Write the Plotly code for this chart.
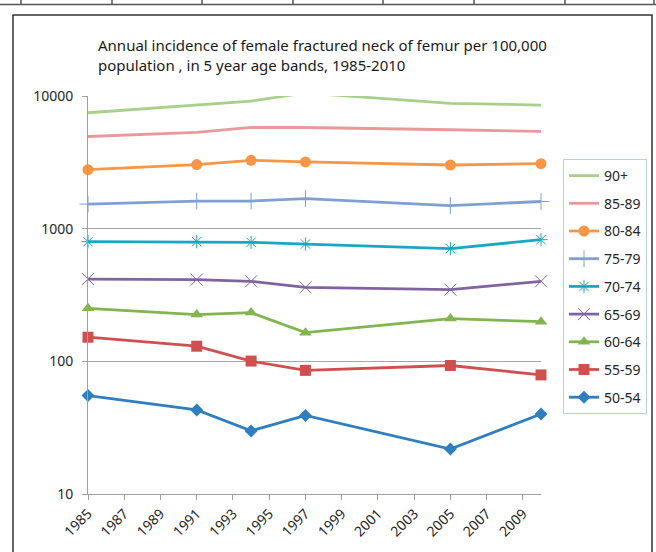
import plotly.graph_objects as go

years = [1985, 1991, 1994, 1997, 2005, 2010]

series_names = ["90+", "85-89", "80-84", "75-79", "70-74", "65-69", "60-64", "55-59", "50-54"]

v_90 = [7480, 8610, 9160, 10540, 8800, 8550]
v_85_89 = [4950, 5310, 5790, 5790, 5565, 5405]
v_80_84 = [2785, 3040, 3275, 3185, 3020, 3090]
v_75_79 = [1531, 1614, 1614, 1687, 1494, 1602]
v_70_74 = [798, 798, 789, 766, 707, 826]
v_65_69 = [417, 413, 401, 361, 347, 401]
v_60_64 = [251, 225, 233, 164.5, 210, 199]
v_55_59 = [152, 130, 100.5, 85.5, 93, 79]
v_50_54 = [55.2, 43, 29.9, 39.1, 21.8, 40.1]

values = [v_90, v_85_89, v_80_84, v_75_79, v_70_74, v_65_69, v_60_64, v_55_59, v_50_54]

colors = ["#A8D08D", "#E89A9B", "#F79646", "#7EA0D3", "#1AA7C1",
          "#8064A2", "#80B54F", "#CF504E", "#2F7EBF"]
markers = [None, None, "circle", "cross-thin-open", "asterisk-open",
           "x-thin-open", "triangle-up", "square", "diamond"]
msizes = [0, 0, 11, 12, 11, 12, 11, 11, 10]

x_ticks = list(range(1985, 2010, 2))
y_ticks = [10, 100, 1000, 10000]

fig = go.Figure()
for name, vals, col, sym, ms in zip(series_names, values, colors, markers, msizes):
    if sym is None:
        fig.add_trace(go.Scatter(x=years, y=vals, name=name, mode="lines",
                                 line=dict(color=col, width=2.8),
                                 legendgroup=name, cliponaxis=False))
    else:
        mk = dict(symbol=sym, size=ms, color=col)
        if "open" in sym:
            mk["line"] = dict(color=col, width=1)
        fig.add_trace(go.Scatter(x=years, y=vals, name=name, mode="lines+markers",
                                 line=dict(color=col, width=2.8), marker=mk,
                                 legendgroup=name, cliponaxis=False))

font_family = "Noto Sans, Open Sans, sans-serif"

# outer chart border and fragment of table above
shapes = [
    dict(type="rect", xref="paper", yref="paper",
         x0=(13 - 88) / 453, x1=(652 - 88) / 453,
         y0=(494 - 570) / 398, y1=(494 - 15) / 398,
         line=dict(color="#333333", width=1.5), fillcolor="rgba(0,0,0,0)", layer="below"),
    dict(type="line", xref="paper", yref="paper",
         x0=(0 - 88) / 453, x1=(656 - 88) / 453,
         y0=(494 - 4.5) / 398, y1=(494 - 4.5) / 398,
         line=dict(color="#555555", width=1.5)),
]
for px in [21, 112, 202, 293, 383, 474, 565, 654]:
    shapes.append(dict(type="line", xref="paper", yref="paper",
                       x0=(px - 88) / 453, x1=(px - 88) / 453,
                       y0=(494 - 4.5) / 398, y1=(494 + 10) / 398,
                       line=dict(color="#555555", width=1.5)))

fig.update_layout(
    width=656, height=552,
    margin=dict(l=88, r=115, t=96, b=58, autoexpand=False),
    paper_bgcolor="white", plot_bgcolor="white",
    font=dict(family=font_family, size=14, color="#262626"),
    title=dict(text="Annual incidence of female fractured neck of femur per 100,000<br>population , in 5 year age bands, 1985-2010",
               x=98 / 656, xanchor="left", xref="container",
               y=1 - 51 / 552, yanchor="middle", yref="container",
               font=dict(family=font_family, size=15, color="#1a1a1a")),
    showlegend=True,
    legend=dict(x=(563 - 88) / 453, xanchor="left", y=(494 - 159) / 398, yanchor="top",
                bgcolor="white", bordercolor="#B9CDE5", borderwidth=1,
                tracegroupgap=6.5, font=dict(family=font_family, size=14, color="#262626"),
                itemwidth=30),
    shapes=shapes,
)

fig.update_xaxes(range=[1985, 2010], tickmode="array", tickvals=x_ticks,
                 ticktext=[str(t) for t in x_ticks], tickangle=-45,
                 ticks="outside", ticklen=5, tickcolor="#A0A0A0",
                 showline=True, linecolor="#A0A0A0", linewidth=1,
                 showgrid=False, zeroline=False,
                 tickfont=dict(family=font_family, size=14, color="#262626"))
fig.update_yaxes(type="log", range=[1, 4], tickmode="array", tickvals=y_ticks,
                 ticktext=[str(t) for t in y_ticks],
                 ticks="outside", ticklen=5, tickcolor="#A0A0A0",
                 ticklabelstandoff=6,
                 showline=True, linecolor="#A0A0A0", linewidth=1,
                 showgrid=True, gridcolor="#A6A6A6", gridwidth=1, zeroline=False,
                 tickfont=dict(family=font_family, size=14, color="#262626"))

fig.write_html("out.html", config={"displayModeBar": False},
               post_script="document.body.style.margin='0px';")
